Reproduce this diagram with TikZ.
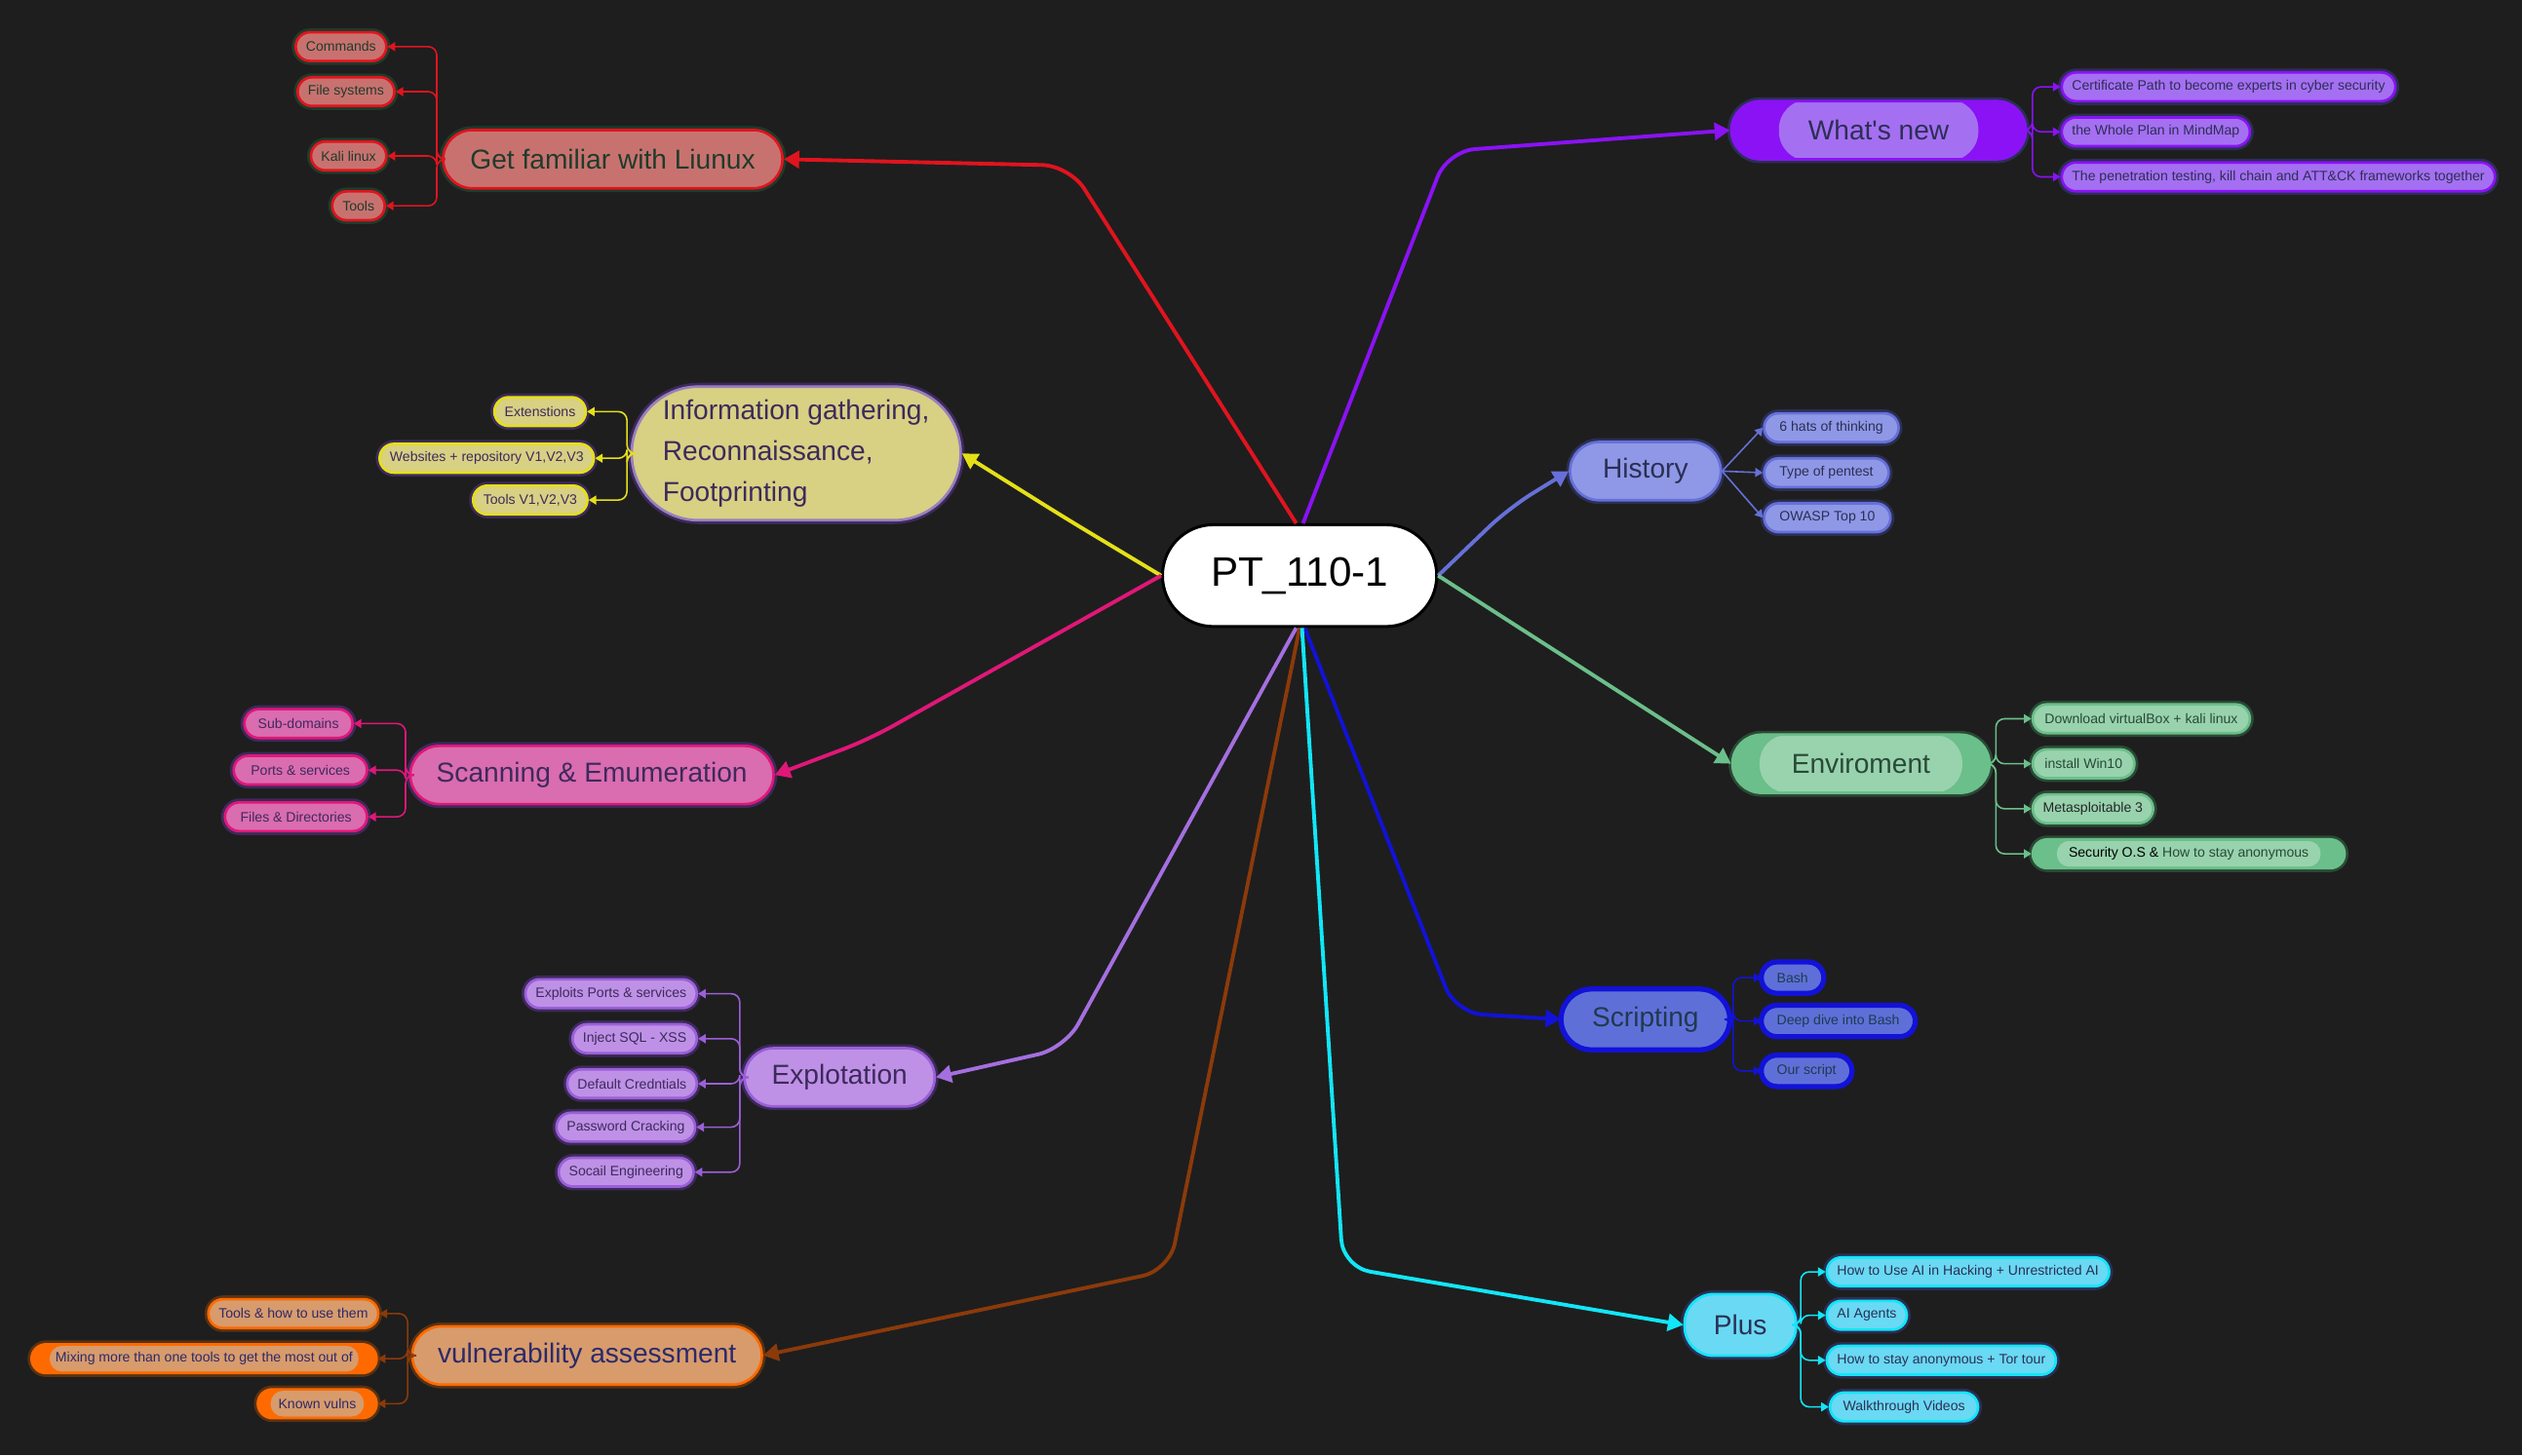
\documentclass[tikz,border=0pt]{standalone}
\usepackage{fontspec}
\setmainfont{Liberation Sans}
\usepackage{xcolor}
\usetikzlibrary{arrows.meta}
\usetikzlibrary{calc}

\definecolor{bgdark}{HTML}{1E1E1E}
\definecolor{linfill}{HTML}{C87270}
\definecolor{linedge}{HTML}{E0141E}
\definecolor{linink}{HTML}{1F3B2B}
\definecolor{newfill}{HTML}{8A12F5}
\definecolor{newlite}{HTML}{A56FF2}
\definecolor{newink}{HTML}{2B2F55}
\definecolor{inffill}{HTML}{D8D083}
\definecolor{infedge}{HTML}{E4E018}
\definecolor{infink}{HTML}{3D2A5C}
\definecolor{infrim}{HTML}{9880BE}
\definecolor{scnfill}{HTML}{DA6CB0}
\definecolor{scnedge}{HTML}{E01778}
\definecolor{scnink}{HTML}{3D2A5C}
\definecolor{hisfill}{HTML}{8F98E6}
\definecolor{hisedge}{HTML}{6670D8}
\definecolor{hisink}{HTML}{2B2F55}
\definecolor{envfill}{HTML}{6BBF8A}
\definecolor{envlite}{HTML}{98D3AE}
\definecolor{envink}{HTML}{2A4A36}
\definecolor{scrfill}{HTML}{5E70D8}
\definecolor{scredge}{HTML}{1212D8}
\definecolor{scrink}{HTML}{1F3A50}
\definecolor{expfill}{HTML}{BE91E6}
\definecolor{expedge}{HTML}{9B5FD8}
\definecolor{expink}{HTML}{3D2A5C}
\definecolor{expline}{HTML}{A46FE0}
\definecolor{vulfill}{HTML}{D89B6C}
\definecolor{vuledge}{HTML}{FF6A00}
\definecolor{vulink}{HTML}{2B2A6A}
\definecolor{vulring}{HTML}{5A3212}
\definecolor{vulline}{HTML}{8B3A0A}
\definecolor{plsfill}{HTML}{6AD9F3}
\definecolor{plsedge}{HTML}{12E6F8}
\definecolor{plsink}{HTML}{2B2F55}

\newcommand\rootfont{\fontsize{12}{14}\selectfont}
\newcommand\branchfont{\fontsize{8}{12}\selectfont}
\newcommand\leaffont{\fontsize{4}{5}\selectfont}

\begin{document}
\begin{tikzpicture}[x=0.0165cm, y=-0.0165cm,
    ring/.style={preaction={draw=#1, line width=2.25pt}},
    leaf/.style={rectangle, rounded corners=4.2pt, line width=0.75pt, minimum height=8.4pt,
        inner xsep=3pt, inner ysep=0pt, font=\leaffont},
    branch/.style={rectangle, rounded corners=8.5pt, line width=0.75pt, minimum height=17pt,
        inner xsep=2pt, font=\branchfont},
    inlay/.style n args={3}{path picture={\fill[#1, rounded corners=#3*0.45pt]
        ($(path picture bounding box.center)+(-#2,-#3)$) rectangle
        ($(path picture bounding box.center)+(#2,#3)$);}},
    linbox/.style={fill=linfill, draw=linedge, text=linink, ring=linink},
    newbox/.style={fill=newlite, draw=newfill, text=newink, ring=newink},
    infbox/.style={fill=inffill, draw=infedge, text=infink, ring=infink},
    scnbox/.style={fill=scnfill, draw=scnedge, text=scnink, ring=scnink},
    hisbox/.style={fill=hisfill, draw=hisedge, text=hisink, ring=hisink},
    envbox/.style={fill=envlite, draw=envfill, text=envink, ring=envink},
    scrbox/.style={fill=scrfill, draw=scredge, text=scrink, ring=scredge},
    expbox/.style={fill=expfill, draw=expedge, text=expink, ring=expink},
    vulbox/.style={fill=vulfill, draw=vuledge, text=vulink, ring=vulring},
    plsbox/.style={fill=plsfill, draw=plsedge, text=plsink, ring=plsink},
    trunk/.style={line width=1.1pt, rounded corners=8pt, -{Triangle[length=4.5pt,width=5pt]}},
    twig/.style={line width=0.45pt, rounded corners=2.5pt, -{Triangle[length=2.2pt,width=2.6pt]}}]

    \useasboundingbox (0,0) rectangle (1568,905);
    \fill[bgdark] (0,0) rectangle (1568,905);

    % Root
    \node[rectangle, rounded corners=14.8pt, draw=black, line width=0.85pt, fill=white,
        minimum width=80pt, minimum height=29.7pt, font=\rootfont] (pt) at (808,358) {PT\_110-1};

    % Left branches
    \node[branch, linbox, minimum width=99pt] (linux) at (381,99) {Get familiar with Liunux};
    \node[leaf, linbox, anchor=east] (commands) at (241,29) {Commands};
    \node[leaf, linbox, anchor=east] (filesys) at (246,57) {File systems};
    \node[leaf, linbox, anchor=east] (kali) at (241,97) {Kali linux};
    \node[leaf, linbox, anchor=east] (tools) at (240,128) {Tools};

    \node[branch, infbox, draw=infrim, rounded corners=19.5pt, minimum width=96pt,
        minimum height=39pt, align=left] (info) at (495,282)
        {Information gathering,\\Reconnaissance,\\Footprinting};
    \node[leaf, infbox, anchor=east] (ext) at (365,256) {Extenstions};
    \node[leaf, infbox, anchor=east] (websites) at (370,285) {Websites + repository V1,V2,V3};
    \node[leaf, infbox, anchor=east] (toolsv) at (366,311) {Tools V1,V2,V3};

    \node[branch, scnbox, minimum width=106pt] (scanning) at (368,482) {Scanning \& Emumeration};
    \node[leaf, scnbox, anchor=east, inner xsep=4pt] (subdom) at (220,450) {Sub-domains};
    \node[leaf, scnbox, anchor=east, inner xsep=5pt] (ports) at (229,479) {Ports \& services};
    \node[leaf, scnbox, anchor=east, inner xsep=4.5pt] (files) at (229,508) {Files \& Directories};

    \node[branch, expbox, minimum width=55.5pt] (explotation) at (522,670) {Explotation};
    \node[leaf, expbox, anchor=east] (exploits) at (434,618) {Exploits Ports \& services};
    \node[leaf, expbox, anchor=east] (inject) at (434,646) {Inject SQL - XSS};
    \node[leaf, expbox, anchor=east] (creds) at (434,674) {Default Credntials};
    \node[leaf, expbox, anchor=east] (password) at (433,701) {Password Cracking};
    \node[leaf, expbox, anchor=east] (social) at (432,729) {Socail Engineering};

    \node[branch, vulbox, minimum width=102pt] (vuln) at (365,843) {vulnerability assessment};
    \node[leaf, vulbox, anchor=east] (toolsuse) at (236,817) {Tools \& how to use them};
    \node[leaf, vulbox, anchor=east, fill=vuledge, inlay={vulfill}{96}{8}, inner xsep=7pt] (mixing)
        at (235,845) {Mixing more than one tools to get the most out of};
    \node[leaf, vulbox, anchor=east, fill=vuledge, inlay={vulfill}{29}{8}, inner xsep=6pt] (known)
        at (235,873) {Known vulns};

    % Right branches
    \node[branch, newbox, fill=newfill, inlay={newlite}{62}{19}, minimum width=86pt] (whatsnew)
        at (1168,81) {What\textquotesingle s new};
    \node[leaf, newbox, anchor=west] (cert) at (1281,54) {Certificate Path to become experts in cyber security};
    \node[leaf, newbox, anchor=west] (plan) at (1281,82) {the Whole Plan in MindMap};
    \node[leaf, newbox, anchor=west] (frameworks) at (1281,110)
        {The penetration testing, kill chain and ATT\&CK frameworks together};

    \node[branch, hisbox, minimum width=44pt] (history) at (1023,293) {History};
    \node[leaf, hisbox, anchor=west, inner xsep=4.5pt] (hats) at (1096,266) {6 hats of thinking};
    \node[leaf, hisbox, anchor=west, inner xsep=4.5pt] (pentest) at (1096,294) {Type of pentest};
    \node[leaf, hisbox, anchor=west, inner xsep=4.5pt] (owasp) at (1096,322) {OWASP Top 10};

    \node[branch, envbox, fill=envfill, inlay={envlite}{63}{18}, minimum width=75pt] (enviroment)
        at (1157,475) {Enviroment};
    \node[leaf, envbox, anchor=west, inner xsep=3.5pt] (vbox) at (1263,447) {Download virtualBox + kali linux};
    \node[leaf, envbox, anchor=west, inner xsep=3.5pt] (win10) at (1263,475) {install Win10};
    \node[leaf, envbox, anchor=west, text=black!85] (meta) at (1263,503) {Metasploitable 3};
    \node[leaf, envbox, anchor=west, fill=envfill, inlay={envlite}{82}{8}, inner xsep=10.5pt] (secos)
        at (1263,531) {\textcolor{black}{Security O.S \&} How to stay anonymous};

    \node[branch, scrbox, minimum width=48.5pt] (scripting) at (1023,634) {Scripting};
    \node[leaf, scrbox, anchor=west, inner xsep=4.2pt] (bash) at (1095,608) {Bash};
    \node[leaf, scrbox, anchor=west, inner xsep=4.2pt] (deepdive) at (1095,635) {Deep dive into Bash};
    \node[leaf, scrbox, anchor=west, inner xsep=4.2pt] (ourscript) at (1095,666) {Our script};

    \node[branch, plsbox, minimum width=32.5pt, minimum height=18pt] (plus) at (1082,824) {Plus};
    \node[leaf, plsbox, anchor=west] (aihack) at (1135,791) {How to Use AI in Hacking + Unrestricted AI};
    \node[leaf, plsbox, anchor=west] (agents) at (1135,818) {AI Agents};
    \node[leaf, plsbox, anchor=west] (anon) at (1135,846) {How to stay anonymous + Tor tour};
    \node[leaf, plsbox, anchor=west, inner xsep=3.8pt] (walk) at (1137,875) {Walkthrough Videos};

    % Root to branches
    \draw[trunk, linedge] ([xshift=-1pt]pt.north) -- (665,103) -- (linux.east);
    \draw[trunk, newfill] ([xshift=1pt]pt.north) -- (900,94) -- (whatsnew.west);
    \draw[trunk, infedge] (pt.west) -- (662,322) -- (info.east);
    \draw[trunk, scnedge] (pt.west) -- (540,460) -- (scanning.east);
    \draw[trunk, hisedge] (pt.east) -- (938,316) -- (history.west);
    \draw[trunk, envfill] (pt.east) -- (enviroment.west);
    \draw[trunk, scredge] ([xshift=1.5pt]pt.south) -- (905,630) -- (scripting.west);
    \draw[trunk, expline] ([xshift=-1pt]pt.south) -- (662,652) -- (explotation.east);
    \draw[trunk, vulline] (pt.south) -- (727,790) -- (vuln.east);
    \draw[trunk, plsedge] ([xshift=0.7pt]pt.south) -- (835,788) -- (plus.west);

    % Branches to leaves
    \foreach \leafname in {commands,filesys,kali,tools}
        \draw[twig, linedge] (linux.west) -- ++(-1.5pt,0) |- (\leafname.east);
    \foreach \leafname in {ext,websites,toolsv}
        \draw[twig, infedge] (info.west) -- ++(-1pt,0) |- (\leafname.east);
    \foreach \leafname in {subdom,ports,files}
        \draw[twig, scnedge] (scanning.west) -- ++(-1pt,0) |- (\leafname.east);
    \foreach \leafname in {exploits,inject,creds,password,social}
        \draw[twig, expedge] (explotation.west) -- ++(-1pt,0) |- (\leafname.east);
    \foreach \leafname in {toolsuse,mixing,known}
        \draw[twig, vulline] (vuln.west) -- ++(-1pt,0) |- (\leafname.east);
    \foreach \leafname in {cert,plan,frameworks}
        \draw[twig, newfill] (whatsnew.east) -- ++(1.5pt,0) |- (\leafname.west);
    \foreach \leafname in {hats,pentest,owasp}
        \draw[twig, hisedge] (history.east) -- (\leafname.west);
    \foreach \leafname in {vbox,win10,meta,secos}
        \draw[twig, envfill] (enviroment.east) -- ++(1.5pt,0) |- (\leafname.west);
    \foreach \leafname in {bash,deepdive,ourscript}
        \draw[twig, scredge] (scripting.east) -- ++(1pt,0) |- (\leafname.west);
    \foreach \leafname in {aihack,agents,anon,walk}
        \draw[twig, plsedge] (plus.east) -- ++(1pt,0) |- (\leafname.west);
\end{tikzpicture}
\end{document}
